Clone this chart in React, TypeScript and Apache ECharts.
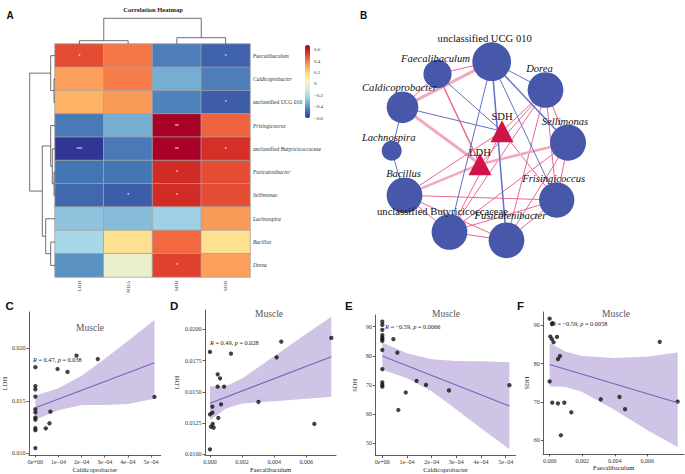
import React, { useEffect, useRef } from "react";
import * as echarts from "echarts";

// ---------- Panel A: correlation heatmap ----------
const COLS = ["LDH", "MDA", "SDH", "SOD"];
const ROWS = [
  "Faecalibaculum",
  "Caldicoprobacter",
  "unclassified UCG 010",
  "Frisingicoccus",
  "unclassified Butyricicoccaceae",
  "Fusicatenibacter",
  "Sellimonas",
  "Lachnospira",
  "Bacillus",
  "Dorea",
];
const CORR = [
  [0.5, 0.41, -0.45, -0.51],
  [0.33, 0.4, -0.34, -0.45],
  [0.29, 0.34, -0.44, -0.52],
  [-0.46, -0.34, 0.68, 0.45],
  [-0.6, -0.46, 0.68, 0.56],
  [-0.47, -0.47, 0.57, 0.5],
  [-0.5, -0.52, 0.57, 0.5],
  [-0.28, -0.3, -0.24, 0.34],
  [-0.22, 0.17, 0.44, 0.17],
  [-0.41, -0.02, 0.52, 0.33],
];
const STARS = [
  ["*", "", "", "*"],
  ["", "", "", ""],
  ["", "", "", "*"],
  ["", "", "**", ""],
  ["***", "", "**", "*"],
  ["", "", "*", ""],
  ["", "*", "*", ""],
  ["", "", "", ""],
  ["", "", "", ""],
  ["", "", "*", ""],
];
const LEGEND_TICKS = [-0.6, -0.4, -0.2, 0, 0.2, 0.4, 0.6];
const PALETTE = ["#313695", "#4575b4", "#74add1", "#abd9e9", "#dcebe0", "#f8f5bc", "#fee090", "#fdae61", "#f46d43", "#d73027", "#a50026"];
// dendrogram merges: [childA, childB, height]; negative = leaf (-i-1), else merge index
const ROW_MERGES = [
  [-2, -3, 1.0],
  [-1, 0, 4.3],
  [-6, -7, 1.0],
  [-5, 2, 2.7],
  [-4, 3, 4.3],
  [-9, -10, 4.3],
  [-8, 5, 9.3],
  [4, 6, 12.7],
  [1, 7, 25.3],
];
const COL_MERGES = [
  [-1, -2, 3.3],
  [-3, -4, 6.3],
  [0, 1, 25.7],
];

// ---------- Panel B: network ----------
const NET_NODES = [
  "unclassified UCG 010",
  "Faecalibaculum",
  "Dorea",
  "Caldicoprobacter",
  "SDH",
  "Sellimonas",
  "Lachnospira",
  "LDH",
  "Bacillus",
  "Frisingicoccus",
  "unclassified Butyricicoccaceae",
  "Fusicatenibacter",
];
const NODE_IS_ENV = [false, false, false, false, true, false, false, true, false, false, false, false];
const NODE_X = [491.7, 437.5, 545.5, 402.5, 502, 568, 391.7, 480, 404.5, 556.7, 449.5, 506.5];
const NODE_Y = [61.7, 74, 90, 107.3, 131.2, 142.7, 150.7, 164.2, 195.3, 200, 232, 240.3];
const NODE_SIZE = [38.7, 28.3, 35.7, 31.7, 23, 36, 20, 23, 35.7, 35.3, 35.7, 35.7];
const LABEL_DX = [-7, -2, -6, -3, 0, -3, -3, 0, -1, -3, -7, 4];
const LABEL_DY = [0, 2, 0, 0, 0, 0, 0, 3, 0, 0, 1, -3];
// [source, target, sign, width]
const NET_EDGES = [
  [1, 0, 1, 1], [3, 0, 1, 3], [1, 3, 1, 1], [3, 7, 1, 3], [1, 7, 1, 1.5],
  [2, 4, 1, 1], [2, 9, 1, 1], [2, 5, 1, 1], [2, 10, 1, 1], [2, 11, 1, 1], [2, 7, 1, 1],
  [4, 10, 1, 1], [4, 8, 1, 1], [4, 9, 1, 1], [7, 8, 1, 2.5], [7, 5, 1, 2.5],
  [8, 9, 1, 1], [8, 10, 1, 1], [8, 11, 1, 1], [10, 11, 1, 1], [10, 9, 1, 1], [11, 9, 1, 1],
  [5, 9, 1, 1], [5, 11, 1, 1], [5, 10, 1, 1],
  [0, 2, -1, 1], [0, 5, -1, 1.5], [0, 9, -1, 1], [0, 11, -1, 1.5], [0, 10, -1, 1],
  [1, 4, -1, 1], [3, 4, -1, 1], [3, 6, -1, 1], [6, 8, -1, 1],
];

// ---------- Panel C: Caldicoprobacter vs LDH ----------
const C_X = [0, 0, 0, 0, 0, 0, 0, 0, 0, 0, 0, 0.000045, 0.000061, 0.000065, 0.000096, 0.000139, 0.000178, 0.00027, 0.000515];
const C_Y = [0.0182, 0.0164, 0.0161, 0.0154, 0.0142, 0.0139, 0.0134, 0.0132, 0.0124, 0.0122, 0.0105, 0.01238, 0.01286, 0.01397, 0.01803, 0.01775, 0.0193, 0.01898, 0.01537];
const C_LINE_X = [0, 0.000515];
const C_LINE_Y = [0.01434, 0.01863];
const C_BAND_X = [0, 0.0001, 0.0002, 0.0003, 0.0004, 0.000515];
const C_BAND_UP = [0.0155, 0.0162, 0.0174, 0.019, 0.0207, 0.0227];
const C_BAND_LO = [0.0132, 0.0141, 0.0146, 0.0146, 0.0147, 0.0152];
const C_XTICKS = [0, 0.0001, 0.0002, 0.0003, 0.0004, 0.0005];
const C_XLABELS = ["0e+00", "1e\u221204", "2e\u221204", "3e\u221204", "4e\u221204", "5e\u221204"];
const C_YTICKS = [0.01, 0.015, 0.02];
const C_YLABELS = ["0.010", "0.015", "0.020"];

// ---------- Panel D: Faecalibaculum vs LDH ----------
const D_X = [0, 0.00131, 0.00444, 0.00415, 0.00756, 0.0065, 0.00048, 0.00063, 0.00048, 0.00088, 0.00069, 0.00015, 0, 0.00015, 0.00052, 0.00017, 0.00006, 0.00023, 0.00302, 0];
const D_Y = [0.01819, 0.01805, 0.01901, 0.01776, 0.01931, 0.01243, 0.0164, 0.01608, 0.01541, 0.01541, 0.014, 0.01381, 0.0132, 0.01333, 0.01291, 0.01243, 0.01221, 0.01213, 0.01419, 0.0104];
const D_LINE_X = [0, 0.00756];
const D_LINE_Y = [0.01408, 0.01781];
const D_BAND_X = [0, 0.001, 0.002, 0.004, 0.006, 0.00756];
const D_BAND_UP = [0.01544, 0.01547, 0.01607, 0.01785, 0.01964, 0.021];
const D_BAND_LO = [0.01272, 0.01367, 0.01407, 0.01425, 0.01444, 0.0146];
const D_XTICKS = [0, 0.002, 0.004, 0.006];
const D_XLABELS = ["0.000", "0.002", "0.004", "0.006"];
const D_YTICKS = [0.01, 0.0125, 0.015, 0.0175, 0.02];
const D_YLABELS = ["0.0100", "0.0125", "0.0150", "0.0175", "0.0200"];

// ---------- Panel E: Caldicoprobacter vs SDH ----------
const E_X = [0, 0, 0, 0, 0, 0, 0, 0, 0, 0, 0, 0, 0.000045, 0.000061, 0.000065, 0.000095, 0.000139, 0.000177, 0.00027, 0.000515];
const E_Y = [91.7, 90.6, 88.9, 87.1, 86.3, 85.7, 85.1, 82.0, 75.4, 70.9, 70.0, 69.4, 85.7, 81.1, 61.4, 67.4, 71.4, 70.0, 68.1, 69.9];
const E_LINE_X = [0, 0.000515];
const E_LINE_Y = [79.9, 62.8];
const E_BAND_X = [0, 0.0001, 0.0002, 0.0003, 0.0004, 0.000515];
const E_BAND_UP = [84.6, 80.9, 78.8, 78.2, 78.1, 77.8];
const E_BAND_LO = [75.2, 72.3, 67.8, 61.6, 55.1, 47.9];
const E_YTICKS = [50, 60, 70, 80, 90];
const E_YLABELS = ["50", "60", "70", "80", "90"];

// ---------- Panel F: Faecalibaculum vs SDH ----------
const F_X = [0, 0.00014, 0.00018, 0.00004, 0.00014, 0.00024, 0.00045, 0.00051, 0.00063, 0, 0.00016, 0.00051, 0.0009, 0.00133, 0.00069, 0.00314, 0.00429, 0.00463, 0.00676, 0.00786];
const F_Y = [91.75, 90.35, 90.6, 87.1, 86.4, 85.6, 87.0, 81.2, 82.0, 75.35, 69.8, 69.6, 69.8, 67.3, 61.3, 70.7, 71.3, 68.1, 85.7, 70.1];
const F_LINE_X = [0, 0.00786];
const F_LINE_Y = [79.8, 69.8];
const F_BAND_X = [0, 0.001, 0.002, 0.004, 0.006, 0.00786];
const F_BAND_UP = [85.4, 83.1, 82.0, 81.5, 81.9, 82.9];
const F_BAND_LO = [74.1, 73.9, 72.6, 67.9, 62.6, 58.2];
const F_YTICKS = [60, 70, 80, 90];
const F_YLABELS = ["60", "70", "80", "90"];

const SERIF = "Liberation Serif";
const SANS = "Liberation Sans";

function dendroSegs(merges: number[][], orient: "row" | "col") {
  const pos: number[] = [];
  const hts: number[] = [];
  const get = (c: number) => (c < 0 ? [-c - 1 + 0.5, 0] : [pos[c], hts[c]]);
  const segs: number[][] = [];
  merges.forEach(([a, b, h], k) => {
    const [pa, ha] = get(a);
    const [pb, hb] = get(b);
    pos[k] = (pa + pb) / 2;
    hts[k] = h;
    segs.push([ha, pa, h, pa], [hb, pb, h, pb], [h, pa, h, pb]);
  });
  return orient === "row" ? segs : segs.map(([h1, p1, h2, p2]) => [p1, h1, p2, h2]);
}

const lineRender = (params: any, api: any) => {
  const a = api.coord([api.value(0), api.value(1)]);
  const b = api.coord([api.value(2), api.value(3)]);
  return { type: "line", shape: { x1: a[0], y1: a[1], x2: b[0], y2: b[1] }, style: { stroke: "#4a4a4a", lineWidth: 0.8 } };
};

function labelFrom(ticks: number[], labels: string[]) {
  return (v: number) => {
    const i = ticks.findIndex((t) => Math.abs(t - v) < 1e-9);
    return i >= 0 ? labels[i] : "";
  };
}

function makePanel(gi: number, p: any) {
  const axisCommon = {
    gridIndex: gi,
    type: "value",
    splitLine: { show: false },
    axisLine: { show: true, onZero: false, lineStyle: { color: "#333", width: 0.8 } },
    nameLocation: "middle",
    nameTextStyle: { fontFamily: SERIF, fontSize: 6.5, color: "#222" },
  };
  const xAxis = {
    ...axisCommon,
    min: p.xMin,
    max: p.xMax,
    name: p.xName,
    nameGap: p.xGap,
    axisTick: { show: true, length: 2.5, customValues: p.xTicks, lineStyle: { color: "#333", width: 0.8 } },
    axisLabel: { customValues: p.xTicks, formatter: labelFrom(p.xTicks, p.xLabels), fontFamily: SERIF, fontSize: 6, color: "#333", margin: 3.5 },
  };
  const yAxis = {
    ...axisCommon,
    min: p.yMin,
    max: p.yMax,
    name: p.yName,
    nameGap: p.yGap,
    axisTick: { show: true, length: 2.5, customValues: p.yTicks, lineStyle: { color: "#333", width: 0.8 } },
    axisLabel: { customValues: p.yTicks, formatter: labelFrom(p.yTicks, p.yLabels), fontFamily: SERIF, fontSize: 6, color: "#333", margin: 3.5 },
  };
  const bx = p.bandX, up = p.bandUp, lo = p.bandLo;
  const series = [
    {
      type: "custom",
      xAxisIndex: gi,
      yAxisIndex: gi,
      data: [[bx[0], up[0]]],
      renderItem: (params: any, api: any) => {
        const pts: number[][] = [];
        for (let i = 0; i < bx.length; i++) pts.push(api.coord([bx[i], up[i]]));
        for (let i = bx.length - 1; i >= 0; i--) pts.push(api.coord([bx[i], lo[i]]));
        return { type: "polygon", shape: { points: pts, smooth: 0 }, style: { fill: "#cfc4e5" } };
      },
      silent: true,
    },
    {
      type: "line",
      xAxisIndex: gi,
      yAxisIndex: gi,
      data: p.lineX.map((x: number, i: number) => [x, p.lineY[i]]),
      symbol: "none",
      lineStyle: { color: "#7b61b8", width: 1.1 },
      silent: true,
    },
    {
      type: "scatter",
      xAxisIndex: gi,
      yAxisIndex: gi,
      data: p.x.map((x: number, i: number) => [x, p.y[i]]),
      symbolSize: 4.3,
      itemStyle: { color: "#111" },
      silent: true,
    },
  ];
  return { grid: { left: p.left, top: p.top, width: p.width, height: p.height }, xAxis, yAxis, series };
}

function buildOption() {
  const grids: any[] = [];
  const xAxes: any[] = [];
  const yAxes: any[] = [];
  const series: any[] = [];

  // grid 0: heatmap
  grids.push({ left: 55, top: 44, width: 195, height: 233 });
  xAxes.push({
    gridIndex: 0,
    type: "category",
    data: COLS,
    axisLine: { show: false },
    axisTick: { show: false },
    splitLine: { show: false },
    axisLabel: { rotate: 90, fontSize: 5, fontFamily: SERIF, color: "#333", margin: 4 },
  });
  yAxes.push({
    gridIndex: 0,
    type: "category",
    data: ROWS,
    inverse: true,
    position: "right",
    axisLine: { show: false },
    axisTick: { show: false },
    splitLine: { show: false },
    axisLabel: {
      margin: 3,
      fontSize: 5.5,
      fontFamily: SERIF,
      color: "#333",
      formatter: (v: string) => (v.startsWith("unclassified") ? `{n|${v}}` : `{i|${v}}`),
      rich: {
        i: { fontStyle: "italic", fontSize: 5.5, fontFamily: SERIF, color: "#333" },
        n: { fontSize: 5.5, fontFamily: SERIF, color: "#333" },
      },
    },
  });
  series.push({
    type: "heatmap",
    xAxisIndex: 0,
    yAxisIndex: 0,
    data: ROWS.flatMap((r, i) => COLS.map((c, j) => [j, i, CORR[i][j]])),
    itemStyle: { borderColor: "#a3a3a3", borderWidth: 0.8 },
    label: {
      show: true,
      color: "#fff",
      fontSize: 5,
      fontFamily: SANS,
      formatter: (p: any) => STARS[p.value[1]][p.value[0]],
    },
    silent: true,
  });

  // grid 1: legend axis
  grids.push({ left: 305, top: 45, width: 5, height: 73 });
  xAxes.push({ gridIndex: 1, type: "value", show: false, min: 0, max: 1 });
  yAxes.push({
    gridIndex: 1,
    type: "value",
    position: "right",
    min: -0.6,
    max: 0.687,
    axisLine: { show: false },
    axisTick: { show: false },
    splitLine: { show: false },
    axisLabel: {
      customValues: LEGEND_TICKS,
      fontSize: 5,
      fontFamily: SERIF,
      color: "#333",
      margin: 4,
      formatter: (v: number) => (Math.abs(v) < 1e-9 ? "0" : String(Math.round(v * 10) / 10).replace("-", "\u2212")),
    },
  });

  // grid 2: row dendrogram
  grids.push({ left: 25, top: 44, width: 30, height: 233 });
  xAxes.push({ gridIndex: 2, type: "value", show: false, min: 0, max: 30, inverse: true });
  yAxes.push({ gridIndex: 2, type: "value", show: false, min: 0, max: 10, inverse: true });
  series.push({ type: "custom", xAxisIndex: 2, yAxisIndex: 2, data: dendroSegs(ROW_MERGES, "row"), renderItem: lineRender, silent: true });

  // grid 3: column dendrogram
  grids.push({ left: 55, top: 17, width: 195, height: 27 });
  xAxes.push({ gridIndex: 3, type: "value", show: false, min: 0, max: 4 });
  yAxes.push({ gridIndex: 3, type: "value", show: false, min: 0, max: 27 });
  series.push({ type: "custom", xAxisIndex: 3, yAxisIndex: 3, data: dendroSegs(COL_MERGES, "col"), renderItem: lineRender, silent: true });

  // grid 4: network
  grids.push({ left: 300, top: 0, width: 385, height: 270 });
  xAxes.push({ gridIndex: 4, type: "value", show: false, min: 300, max: 685 });
  yAxes.push({ gridIndex: 4, type: "value", show: false, min: 0, max: 270, inverse: true });
  series.push({
    type: "graph",
    coordinateSystem: "cartesian2d",
    xAxisIndex: 4,
    yAxisIndex: 4,
    silent: true,
    z: 3,
    data: NET_NODES.map((n, i) => ({
      name: n,
      value: [NODE_X[i], NODE_Y[i]],
      symbol: NODE_IS_ENV[i] ? "triangle" : "circle",
      symbolSize: NODE_IS_ENV[i] ? [NODE_SIZE[i], NODE_SIZE[i] - 1] : NODE_SIZE[i],
      itemStyle: { color: NODE_IS_ENV[i] ? "#d01448" : "#4757aa" },
      label: {
        show: true,
        position: "top",
        distance: -2,
        offset: [LABEL_DX[i], LABEL_DY[i]],
        fontFamily: SERIF,
        fontSize: 10.6,
        color: "#111",
        fontStyle: NODE_IS_ENV[i] || n.startsWith("unclassified") ? "normal" : "italic",
      },
    })),
    links: NET_EDGES.map(([s, t, sign, w]) => ({
      source: NET_NODES[s],
      target: NET_NODES[t],
      lineStyle: {
        color: sign > 0 ? (w >= 2 ? "#f3a8c0" : "#ea6694") : "#6170c8",
        width: w,
        opacity: 1,
        curveness: 0,
      },
    })),
  });

  // scatter panels
  const panels = [
    {
      left: 26.7, top: 312, width: 134, height: 143,
      xMin: -0.000028, xMax: 0.000542, yMin: 0.00984, yMax: 0.02346,
      x: C_X, y: C_Y, lineX: C_LINE_X, lineY: C_LINE_Y, bandX: C_BAND_X, bandUp: C_BAND_UP, bandLo: C_BAND_LO,
      xTicks: C_XTICKS, xLabels: C_XLABELS, yTicks: C_YTICKS, yLabels: C_YLABELS,
      xName: "Caldicoprobacter", xGap: 10.5, yName: "LDH", yGap: 15.5,
    },
    {
      left: 205, top: 310, width: 131, height: 145,
      xMin: -0.00031, xMax: 0.00785, yMin: 0.00995, yMax: 0.02154,
      x: D_X, y: D_Y, lineX: D_LINE_X, lineY: D_LINE_Y, bandX: D_BAND_X, bandUp: D_BAND_UP, bandLo: D_BAND_LO,
      xTicks: D_XTICKS, xLabels: D_XLABELS, yTicks: D_YTICKS, yLabels: D_YLABELS,
      xName: "Faecalibaculum", xGap: 11, yName: "LDH", yGap: 25.5,
    },
    {
      left: 375.4, top: 315, width: 140.4, height: 140.7,
      xMin: -0.000028, xMax: 0.000541, yMin: 45.75, yMax: 94.0,
      x: E_X, y: E_Y, lineX: E_LINE_X, lineY: E_LINE_Y, bandX: E_BAND_X, bandUp: E_BAND_UP, bandLo: E_BAND_LO,
      xTicks: C_XTICKS, xLabels: C_XLABELS, yTicks: E_YTICKS, yLabels: E_YLABELS,
      xName: "Caldicoprobacter", xGap: 10.3, yName: "SDH", yGap: 17,
    },
    {
      left: 543.3, top: 312, width: 140.7, height: 142,
      xMin: -0.00039, xMax: 0.00825, yMin: 56.4, yMax: 93.5,
      x: F_X, y: F_Y, lineX: F_LINE_X, lineY: F_LINE_Y, bandX: F_BAND_X, bandUp: F_BAND_UP, bandLo: F_BAND_LO,
      xTicks: D_XTICKS, xLabels: D_XLABELS, yTicks: F_YTICKS, yLabels: F_YLABELS,
      xName: "Faecalibaculum", xGap: 10, yName: "SDH", yGap: 13.5,
    },
  ];
  panels.forEach((p, k) => {
    const gi = 5 + k;
    const r = makePanel(gi, p);
    grids.push(r.grid);
    xAxes.push(r.xAxis);
    yAxes.push(r.yAxis);
    series.push(...r.series);
  });

  const letter = (t: string, left: number, top: number, size: number) => ({
    text: t, left, top, padding: 0,
    textStyle: { fontFamily: SANS, fontWeight: "bold", fontSize: size, color: "#111" },
  });
  const muscle = (cx: number, top: number) => ({
    text: "Muscle", left: cx, top, padding: 0, textAlign: "center",
    textStyle: { fontFamily: SERIF, fontWeight: "normal", fontSize: 9.5, color: "#555" },
  });
  const stat = (text: string, left: number, top: number) => ({
    text, left, top, padding: 0,
    textStyle: {
      fontFamily: SERIF, fontWeight: "normal", fontSize: 6.3, color: "#222",
      rich: { i: { fontStyle: "italic", fontFamily: SERIF, fontSize: 6.3, color: "#222" } },
    },
  });

  const titles = [
    letter("A", 6.5, 10, 10),
    letter("B", 360, 10, 10),
    letter("C", 5.5, 299.5, 11.5),
    letter("D", 170, 299.5, 11.5),
    letter("E", 345, 299.5, 11.5),
    letter("F", 517, 299.5, 11.5),
    {
      text: "Correlation Heatmap", left: 153, top: 5.5, padding: 0, textAlign: "center",
      textStyle: { fontFamily: SERIF, fontWeight: "bold", fontSize: 6.5, color: "#222" },
    },
    muscle(90, 323),
    muscle(269, 309),
    muscle(446, 309),
    muscle(616, 309),
    stat("{i|R} = 0.47, {i|p} = 0.038", 33, 356.5),
    stat("{i|R} = 0.49, {i|p} = 0.028", 210, 339.5),
    stat("{i|R} = \u22120.59, {i|p} = 0.0066", 385, 323.5),
    stat("{i|R} = \u22120.59, {i|p} = 0.0058", 552, 320),
  ];

  return {
    animation: false,
    backgroundColor: "#fff",
    textStyle: { fontFamily: SERIF },
    title: titles,
    grid: grids,
    xAxis: xAxes,
    yAxis: yAxes,
    visualMap: {
      type: "continuous",
      seriesIndex: 0,
      dimension: 2,
      min: -0.6,
      max: 0.687,
      calculable: false,
      orient: "vertical",
      left: 305,
      top: 45,
      itemWidth: 5,
      itemHeight: 73,
      padding: 0,
      hoverLink: false,
      inRange: { color: PALETTE },
    },
    series,
  };
}

export default function App() {
  const ref = useRef<HTMLDivElement>(null);
  useEffect(() => {
    if (!ref.current) return;
    const chart = echarts.init(ref.current, null, { renderer: "svg" });
    chart.setOption(buildOption() as any);
    return () => chart.dispose();
  }, []);
  return (
    <div
      ref={ref}
      style={{ position: "fixed", left: 0, top: 0, width: 685, height: 474, background: "#fff" }}
    />
  );
}
